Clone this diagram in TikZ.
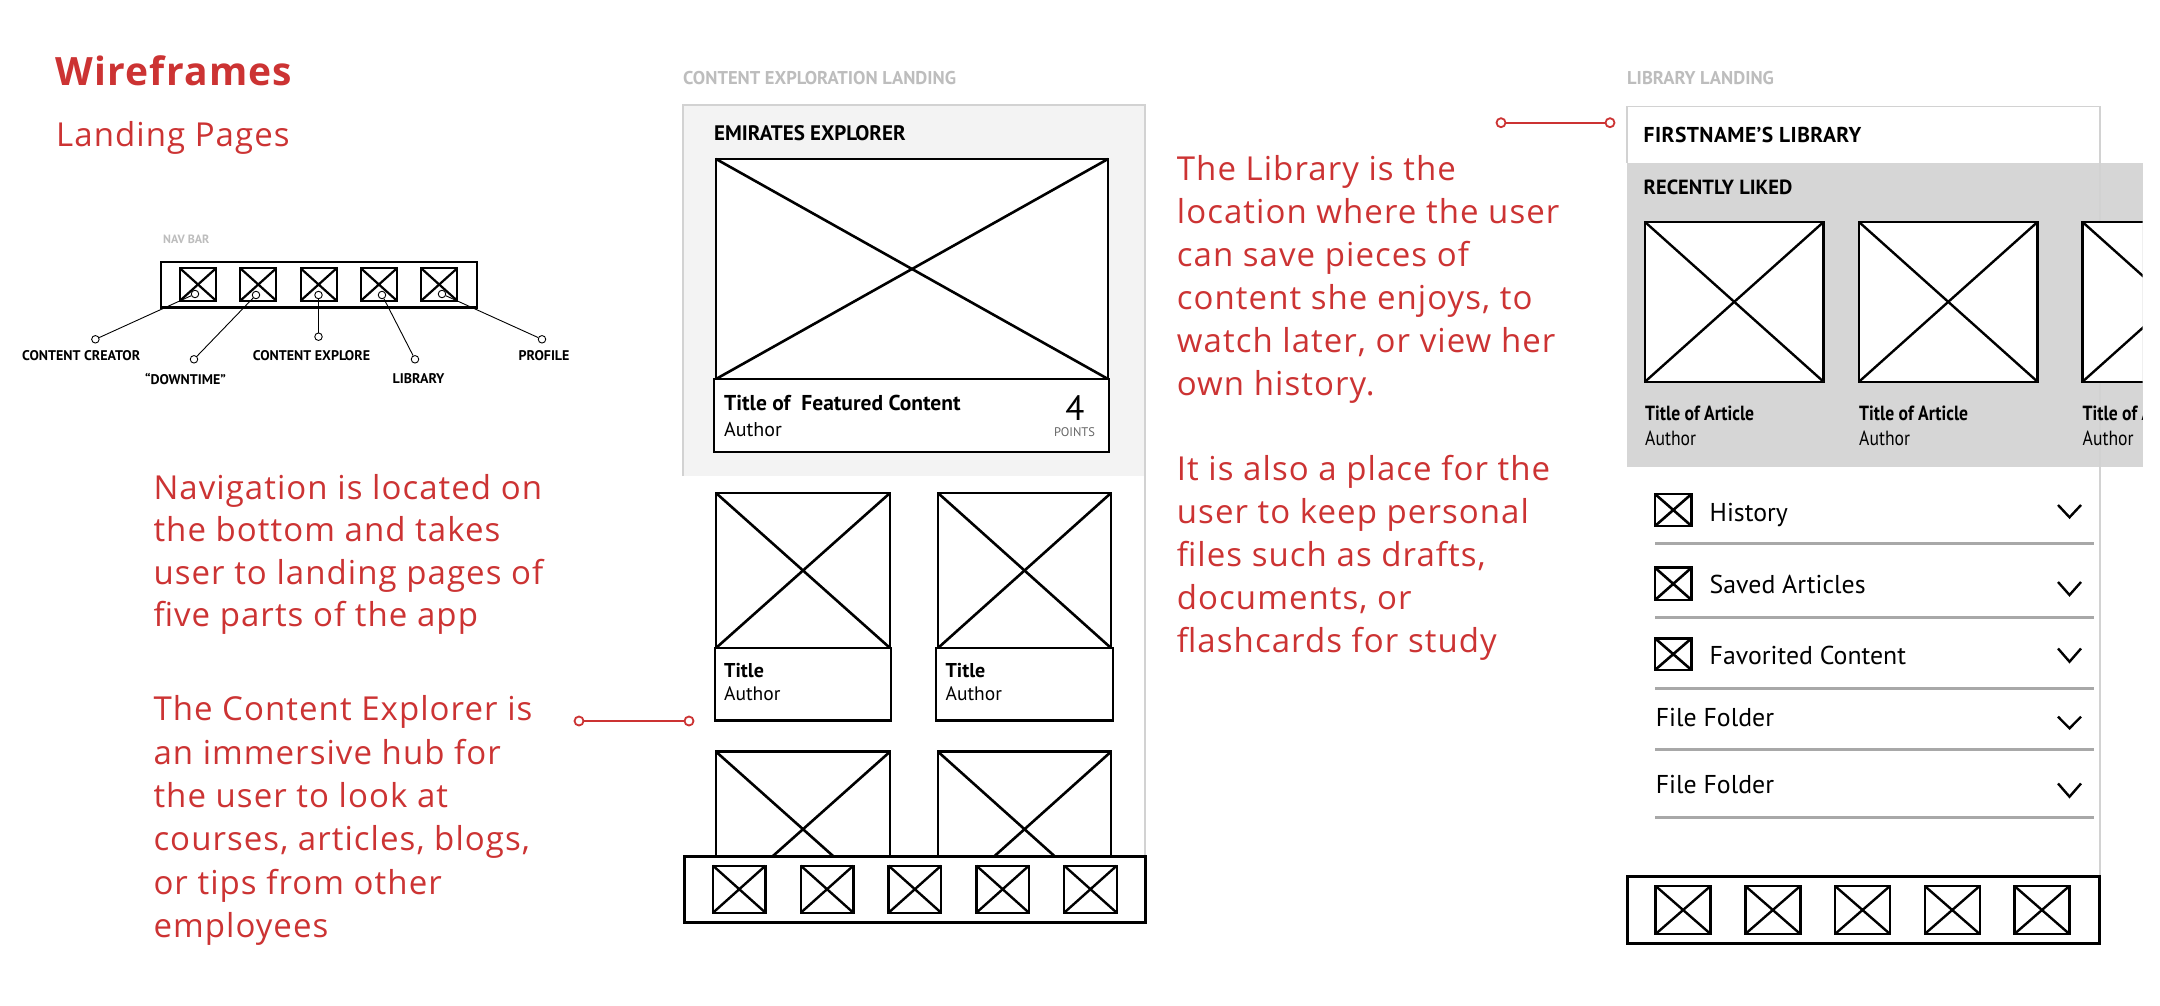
\documentclass[tikz,border=0pt]{standalone}
\usepackage{fontspec}
\setmainfont{Open Sans}
\newfontfamily\redfont[LetterSpace=3.2]{Open Sans}
\newfontfamily\wf{PT Sans}
\newfontfamily\wfc[FakeStretch=0.86]{PT Sans}
\newfontfamily\wfs[LetterSpace=2]{PT Sans}
\newcommand\fsz[1]{\fontsize{#1}{#1}\selectfont}
\definecolor{wfred}{HTML}{CC3333}
\definecolor{panelgray}{HTML}{F3F3F3}
\definecolor{libgray}{HTML}{D6D6D6}
\definecolor{framegray}{HTML}{D2D2D2}
\definecolor{headgray}{HTML}{BDBDBD}
\definecolor{sepgray}{HTML}{A8A8A8}
\tikzset{
  wfbox/.style={draw=black,fill=white,line width=2.6pt,line join=miter},
  redtxt/.style={inner sep=0pt,text=wfred},
  redlinetxt/.style={inner sep=0pt,text=wfred,anchor=base west,font=\redfont\fsz{33}},
  redpin/.style={circle,draw=wfred,fill=white,line width=1.8pt,minimum size=9pt,inner sep=0pt},
  redline/.style={draw=wfred,line width=1.8pt},
  navpin/.style={circle,draw=black,fill=white,line width=0.9pt,minimum size=7.5pt,inner sep=0pt},
  navline/.style={draw=black,line width=0.9pt},
  navlabel/.style={inner sep=0pt,font=\wf\bfseries\fsz{14}},
  wftext/.style={inner sep=0pt,anchor=base west},
  headtext/.style={anchor=west,inner sep=0pt,text=headgray,font=\wf\bfseries\fsz{18.5}},
  chev/.style={draw=black,line width=2.4pt,line cap=butt,line join=miter},
  sepline/.style={draw=sepgray,line width=2.6pt},
  frameline/.style={draw=framegray,line width=1.4pt}
}
% x-box: optional style, x1,y1,x2,y2
\newcommand\wfxbox[5][]{%
  \filldraw[wfbox,#1] (#2,#3) rectangle (#4,#5);
  \draw[wfbox,#1] (#2,#3) -- (#4,#5) (#2,#5) -- (#4,#3);}
% red paragraph: name, x, first baseline, line spacing, lines
\newcommand\redlines[5]{%
  \foreach \ln [count=\i] in {#5}{
    \node[redlinetxt] (#1-\i) at (#2,{#3+(\i-1)*#4}) {\ln};
  }}
\begin{document}
\begin{tikzpicture}[x=1pt,y=-1pt]
\useasboundingbox (0,0) rectangle (2160,1006);
\fill[white] (0,0) rectangle (2160,1006);

% ---------- titles ----------
\node[redtxt,anchor=base west,font=\redfont\bfseries\fsz{39}] (title) at (55,85.7) {Wireframes};
\node[redtxt,anchor=base west,font=\redfont\fsz{33}] (subtitle) at (56,146.7) {Landing Pages};

% ---------- nav bar diagram ----------
\node[anchor=west,inner sep=0pt,text=headgray,font=\wf\bfseries\fsz{12}] (navlbl) at (163,239) {NAV BAR};
\draw[line width=2.4pt] (161,262) rectangle (477,307.3);
\foreach \x in {180,240.3,300.6,360.9,421.2}{
  \wfxbox[line width=2.2pt]{\x}{268.3}{\x+36}{300.7}
}
\node[navpin] (pinA) at (195,294) {};
\node[navpin] (pinB) at (256,295) {};
\node[navpin] (pinC) at (318.5,295) {};
\node[navpin] (pinD) at (382,295) {};
\node[navpin] (pinE) at (442,294) {};
\node[navpin] (endA) at (95.4,339.3) {};
\node[navpin] (endB) at (194,359.3) {};
\node[navpin] (endC) at (318.5,336.7) {};
\node[navpin] (endD) at (415,359.3) {};
\node[navpin] (endE) at (542,339.3) {};
\draw[navline] (endA) -- (pinA);
\draw[navline] (endB) -- (pinB);
\draw[navline] (endC) -- (pinC);
\draw[navline] (endD) -- (pinD);
\draw[navline] (endE) -- (pinE);
\node[navlabel] (lblA) at (81.2,355.3) {CONTENT CREATOR};
\node[navlabel] (lblB) at (185.5,378.7) {“DOWNTIME”};
\node[navlabel] (lblC) at (311.5,355.3) {CONTENT EXPLORE};
\node[navlabel] (lblD) at (418.5,378.7) {LIBRARY};
\node[navlabel] (lblE) at (544,355.3) {PROFILE};

% ---------- red paragraphs ----------
\redlines{paraNav}{153.3}{499.3}{42.5}{Navigation is located on,the bottom and takes,user to landing pages of,five parts of the app}
\redlines{paraCE}{153.3}{720.7}{43.4}{The Content Explorer is,an immersive hub for,the user to look at,{courses, articles, blogs,},or tips from other,employees}
\redlines{paraLib}{1176.7}{180}{43}{The Library is the,location where the user,can save pieces of,{content she enjoys, to},{watch later, or view her},own history.}
\redlines{paraLibB}{1176.7}{480.8}{43}{It is also a place for the,user to keep personal,{files such as drafts,},{documents, or},flashcards for study}

% ---------- content exploration landing ----------
\node[headtext] (ceHead) at (683,78) {CONTENT EXPLORATION LANDING};
\fill[panelgray] (683,105) rectangle (1145,476);
\draw[frameline] (683,476) -- (683,105) -- (1145,105) -- (1145,857);
\node[anchor=west,inner sep=0pt,font=\wf\bfseries\fsz{21}] (ceTitle) at (714,133) {EMIRATES EXPLORER};
\wfxbox{716}{159}{1108}{379}
\filldraw[wfbox] (714,379) rectangle (1109,452);
\node[wftext,font=\wf\bfseries\fsz{21.5}] (featTitle) at (724,410) {Title of~ Featured Content};
\node[wftext,font=\wf\fsz{20}] (featAuthor) at (724,436) {Author};
\node[inner sep=0pt,anchor=base,font=\wf\fsz{35}] (featPts) at (1075,420) {4};
\node[inner sep=0pt,font=\wf\fsz{12.5},text=black!60] (featPtsLbl) at (1074.5,432) {POINTS};
% cards
\wfxbox{716}{493}{890}{648}
\filldraw[wfbox] (715,648) rectangle (891,720.7);
\wfxbox{938}{493}{1111}{648}
\filldraw[wfbox] (936,648) rectangle (1113,720.7);
\node[wftext,font=\wf\bfseries\fsz{20}] (c1t) at (724,677) {Title};
\node[wftext,font=\wf\fsz{19.5}] (c1a) at (724,700.7) {Author};
\node[wftext,font=\wf\bfseries\fsz{20}] (c2t) at (945.4,677) {Title};
\node[wftext,font=\wf\fsz{19.5}] (c2a) at (945.4,700.7) {Author};
\wfxbox{716}{751.7}{890}{906.7}
\wfxbox{938}{751.7}{1111}{906.7}
% bottom nav
\filldraw[wfbox,line width=3pt] (684,856.7) rectangle (1145,922.7);
\foreach \x in {713,800.8,888.6,976.4,1064.2}{
  \wfxbox[line width=2.4pt]{\x}{865.7}{\x+52.5}{912.7}
}
% connector
\node[redpin] (cePinA) at (579,721) {};
\node[redpin] (cePinB) at (689,721) {};
\draw[redline] (cePinA) -- (cePinB);

% ---------- library landing ----------
\node[headtext] (libHead) at (1627,78.3) {LIBRARY LANDING};
\node[redpin] (libPinA) at (1501,122.7) {};
\node[redpin] (libPinB) at (1610,122.7) {};
\draw[redline] (libPinA) -- (libPinB);
\fill[libgray] (1627,162.7) rectangle (2142.6,467.3);
\draw[frameline] (1627,162.7) -- (1627,106.7) -- (2100,106.7) -- (2100,876);
\node[anchor=west,inner sep=0pt,font=\wfs\bfseries\fsz{21.5}] (libTitle) at (1643.5,135) {FIRSTNAME’S LIBRARY};
\node[anchor=west,inner sep=0pt,font=\wf\bfseries\fsz{20.5}] (recent) at (1643.5,187) {RECENTLY LIKED};
\begin{scope}
  \clip (1627,162.7) rectangle (2142.6,467.3);
  \foreach \x [count=\i] in {1645,1859,2082.5}{
    \wfxbox[line width=2.4pt]{\x}{222}{\x+178.5}{381.7}
    \node[anchor=west,inner sep=0pt,font=\wfc\bfseries\fsz{20.5}] (artT\i) at (\x,413) {Title of Article};
    \node[anchor=west,inner sep=0pt,font=\wfc\fsz{20.5}] (artA\i) at (\x,438) {Author};
  }
\end{scope}
% rows
\wfxbox[line width=2.6pt]{1655}{494}{1691.5}{526}
\wfxbox[line width=2.6pt]{1655}{567.7}{1691.5}{600}
\wfxbox[line width=2.6pt]{1655}{638.3}{1691.5}{670}
\node[wftext,font=\wf\fsz{25.8}] (rowHist) at (1709.5,521) {History};
\node[wftext,font=\wf\fsz{25.8}] (rowSaved) at (1709.5,593.8) {Saved Articles};
\node[wftext,font=\wf\fsz{25.8}] (rowFav) at (1709.5,664.5) {Favorited Content};
\node[wftext,font=\wf\fsz{25.8}] (rowF1) at (1655.6,726) {File Folder};
\node[wftext,font=\wf\fsz{25.8}] (rowF2) at (1655.6,793.8) {File Folder};
\foreach \t/\b in {505/517.3,582/595,648.5/661.7,716.7/728.3,783.5/796.7}{
  \draw[chev] (2058,\t) -- (2069.5,\b) -- (2081,\t);
}
\foreach \y in {543.3,617.3,688.3,749.3,817.3}{
  \draw[sepline] (1655,\y) -- (2094,\y);
}
% bottom nav
\filldraw[wfbox,line width=3pt] (1627,876) rectangle (2099,943.3);
\foreach \x in {1655.6,1745.3,1835,1924.7,2014.4}{
  \wfxbox[line width=2.4pt]{\x}{886}{\x+55}{934}
}
\end{tikzpicture}
\end{document}
